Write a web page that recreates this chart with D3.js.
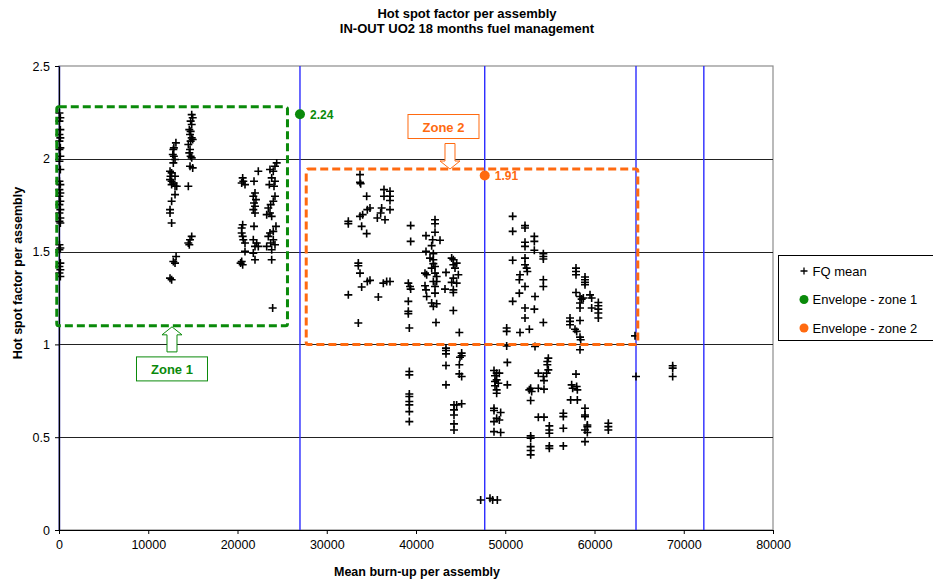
<!DOCTYPE html>
<html><head><meta charset="utf-8">
<script src="https://cdn.jsdelivr.net/npm/d3@7"></script>
<style>
html,body{margin:0;padding:0;background:#fff;}
svg{display:block;font-family:"Liberation Sans",Arial,sans-serif;}
</style></head>
<body><svg id="chart" width="933" height="582"></svg>
<script>
// ---------- data ----------
const titleLines = ["Hot spot factor per assembly", "IN-OUT UO2 18 months fuel management"];
const xLabel = "Mean burn-up per assembly";
const yLabel = "Hot spot factor per assembly";
const xTicks = [0,10000,20000,30000,40000,50000,60000,70000,80000];
const yTicks = [0,0.5,1,1.5,2,2.5];
const limitBurnups = [50, 27000, 47700, 64650, 72250];
const envelopeZone1 = [[27000, 2.24]];
const envelopeZone2 = [[47700, 1.91]];
const zoneNames = ["Zone 1", "Zone 2"];
// [xmin, xmax, ymin, ymax] in data units
const zoneBounds = [[-250, 25600, 1.1, 2.28], [27700, 64850, 1.0, 1.945]];
// label centre [x, y] in data units
const zoneLabelPos = [[12660, 0.868], [43080, 2.174]];
const legendLabels = ["FQ mean", "Envelope - zone 1", "Envelope - zone 2"];

const fqZone1 = [
[50,2.247],[150,2.221],[50,2.203],[150,2.157],[50,2.131],[150,2.113],[50,2.095],[150,2.059],[50,2.050],[150,2.014],[50,1.987],[150,1.942],[50,1.879],[150,1.861],[50,1.834],[150,1.816],[50,1.798],[150,1.771],[50,1.753],[150,1.726],[50,1.708],[150,1.681],[50,1.663],[150,1.654],[50,1.537],[150,1.519],[50,1.510],[150,1.438],[50,1.420],[150,1.402],[50,1.385],[150,1.366],
[13100,2.086],[12870,2.059],[12810,2.050],[12750,2.023],[12870,2.014],[13000,1.996],[12810,1.978],[12440,1.933],[12620,1.924],[12500,1.906],[13000,1.906],[12440,1.888],[12620,1.879],[12810,1.870],[13190,1.852],[12620,1.861],[13000,1.852],[13000,1.807],[12620,1.771],[12440,1.726],[12440,1.708],[12620,1.654],[13120,1.474],[12810,1.447],[13000,1.438],[12440,1.357],[12620,1.348],
[14870,2.238],[14980,2.221],[14750,2.203],[14870,2.185],[14600,2.157],[14750,2.148],[14680,2.131],[14870,2.113],[14980,2.104],[14750,2.095],[14490,2.077],[14680,2.050],[14600,2.032],[14750,2.014],[14870,2.005],[14680,1.960],[14980,1.951],[14490,1.852],[14870,1.582],[14680,1.564],[14490,1.546],[14600,1.537],
[20580,1.897],[20650,1.879],[20470,1.870],[20840,1.861],[20580,1.645],[20470,1.627],[20470,1.600],[20580,1.582],[20650,1.564],[20840,1.546],[20840,1.501],[20470,1.447],[20580,1.429],[20350,1.438],
[22330,1.933],[21850,1.879],[21960,1.816],[21770,1.798],[22070,1.780],[21850,1.762],[21960,1.744],[21770,1.726],[21960,1.708],[21850,1.636],[21770,1.564],[22150,1.546],[21960,1.528],[22330,1.528],[21770,1.492],[21960,1.456],
[24390,1.978],[24200,1.960],[23640,1.942],[24010,1.933],[23830,1.897],[24200,1.879],[23570,1.861],[24090,1.852],[24200,1.798],[24010,1.771],[23720,1.753],[23450,1.735],[23640,1.708],[23270,1.699],[23830,1.690],[24310,1.636],[24010,1.609],[23640,1.600],[23450,1.582],[24010,1.564],[23720,1.546],[24200,1.537],[23270,1.528],[23830,1.510],[23830,1.456],[23940,1.196]
];

const fqZone2 = [
[33725,1.915],[33725,1.873],[33800,1.866],[34472,1.798],[36414,1.834],[37086,1.825],[36414,1.798],[37086,1.798],[37086,1.775],[34845,1.735],[34547,1.726],[34023,1.699],[33725,1.690],[33911,1.636],[34472,1.597],[36152,1.735],[36040,1.708],[35667,1.681],[36526,1.672],[37086,1.726],[32417,1.663],[32417,1.650],[33538,1.438],[33538,1.424],[33725,1.384],[33911,1.309],[34845,1.345],[34547,1.339],[32417,1.267],[33538,1.115],[35779,1.255],[36339,1.330],[36713,1.339],[37086,1.339],
[39402,1.640],[39402,1.555],[41120,1.586],[42129,1.672],[42129,1.650],[42129,1.604],[41867,1.564],[42689,1.561],[41755,1.532],[41120,1.501],[41942,1.489],[41568,1.465],[41942,1.456],[41942,1.435],[42129,1.420],[41755,1.411],[41008,1.384],[42129,1.384],[42315,1.366],[42315,1.339],[41195,1.375],[41008,1.316],[41120,1.294],[41195,1.258],[41942,1.339],[42129,1.312],[42129,1.276],[41755,1.223],[42315,1.219],[41942,1.205],[39140,1.330],[39327,1.312],[39402,1.298],[39140,1.232],[39140,1.178],[39140,1.165],[39252,1.088],[42240,1.118],[43361,1.388],[43249,1.298],[43996,1.465],[44183,1.456],[44556,1.438],[44183,1.429],[44370,1.411],[44743,1.375],[44183,1.357],[43996,1.334],[44556,1.330],[44183,1.294],[44183,1.280],[44183,1.183],[44855,1.064],
[50831,1.690],[50831,1.609],[52213,1.640],[52213,1.627],[52213,1.550],[52213,1.528],[53259,1.582],[53259,1.555],[53259,1.507],[52213,1.465],[50831,1.453],[52213,1.429],[52400,1.411],[52475,1.393],[51653,1.375],[51578,1.348],[52213,1.312],[54268,1.489],[54268,1.474],[54268,1.460],[54268,1.348],[54268,1.312],[51578,1.276],[53334,1.258],[50831,1.232],[52213,1.196],[53259,1.190],[52213,1.142],[54268,1.118],[52699,1.082],[51653,1.064],[50159,1.088],[50159,1.070],[50159,0.992],[53334,0.989],
[57927,1.411],[57927,1.393],[57927,1.375],[58936,1.363],[58936,1.348],[58936,1.334],[58936,1.321],[57927,1.280],[58376,1.258],[58563,1.244],[58749,1.250],[59496,1.267],[59683,1.250],[58376,1.223],[58376,1.196],[59683,1.196],[60430,1.226],[60430,1.208],[60430,1.190],[60430,1.169],[60430,1.142],[57255,1.142],[57255,1.124],[58376,1.129],[57255,1.106],[57815,1.082],[58002,1.070],[58376,1.039],[58451,1.025],[58376,0.971],[64538,1.046]
];

const fqOther = [
[43360,0.980],[43360,0.967],[43360,0.949],[45116,0.953],[45116,0.939],[44929,0.931],[43360,0.886],[44855,0.890],[43360,0.782],[44855,0.841],[45116,0.827],
[39252,0.854],[39252,0.836],[39252,0.733],[39252,0.719],[39252,0.692],[39252,0.674],[39252,0.638],[39252,0.584],
[44257,0.674],[44556,0.674],[45116,0.680],[44257,0.647],[44257,0.620],[44257,0.572],[44257,0.539],
[48739,0.859],[49038,0.845],[49336,0.845],[48851,0.831],[49038,0.809],[48851,0.800],[49224,0.791],[48851,0.777],[49038,0.755],[49038,0.737],[50233,0.903],[50233,0.782],[48739,0.656],[48739,0.644],[49486,0.633],[49038,0.602],[49336,0.593],[48739,0.584],[48739,0.530],[49486,0.525],
[47245,0.162],[48291,0.171],[48589,0.162],[49112,0.162],
[52847,0.764],[52698,0.755],[52959,0.746],[52847,0.698],[53706,0.764],[54341,0.759],[53706,0.845],[54267,0.827],[54640,0.845],[54341,0.805],[54827,0.926],[54715,0.908],[54715,0.890],[54827,0.863],[53706,0.608],[54341,0.608],[54939,0.561],[54939,0.539],[54939,0.521],[54939,0.453],[54939,0.440],[52847,0.507],[52847,0.494],[52847,0.449],[52847,0.428],[52847,0.405],[56508,0.629],[56508,0.611],[56508,0.548],[56508,0.453],
[57441,0.782],[57553,0.764],[58002,0.773],[58077,0.755],[57927,0.840],[57329,0.701],[58077,0.701],[58935,0.656],[58935,0.620],[58935,0.611],[59197,0.566],[59197,0.557],[58935,0.539],[59197,0.525],[58935,0.476],
[61550,0.575],[61550,0.557],[61550,0.539],[64650,0.827],[68759,0.885],[68759,0.872],[68759,0.827]
];

// ---------- drawing ----------
(function () {
const GREEN = "#0a8a0a", ORANGE = "#ff6a10", BLUE = "#2b2bff";
const svg = d3.select("#chart");
const pL = 59, pR = 773, pT = 66, pB = 530;
const x = d3.scaleLinear().domain([0, 80000]).range([pL, pR]);
const y = d3.scaleLinear().domain([0, 2.5]).range([pB, pT]);

svg.append("g").selectAll("text").data(titleLines).join("text")
  .attr("x", 467).attr("y", (d, i) => 18 + i * 15)
  .attr("text-anchor", "middle").attr("font-weight", "bold").attr("font-size", 13)
  .text(d => d);

svg.append("rect").attr("x", pL).attr("y", pT).attr("width", pR - pL).attr("height", pB - pT)
  .attr("fill", "none").attr("stroke", "#8c8c8c").attr("stroke-width", 1.2);

svg.append("g").selectAll("line").data(yTicks.filter(v => v > 0 && v < 2.5)).join("line")
  .attr("x1", pL).attr("x2", pR)
  .attr("y1", d => Math.round(y(d)) + 0.5).attr("y2", d => Math.round(y(d)) + 0.5)
  .attr("stroke", "#222").attr("stroke-width", 1);

svg.append("g").selectAll("line").data(limitBurnups).join("line")
  .attr("x1", d => x(d)).attr("x2", d => x(d)).attr("y1", pT).attr("y2", pB)
  .attr("stroke", BLUE).attr("stroke-width", 1.4);

const xAxis = svg.append("g").attr("transform", `translate(0,${pB})`)
  .call(d3.axisBottom(x).tickValues(xTicks).tickSize(4).tickSizeOuter(0).tickPadding(6).tickFormat(d3.format("d")));
const yAxis = svg.append("g").attr("transform", `translate(${pL},0)`)
  .call(d3.axisLeft(y).tickValues(yTicks).tickSize(4).tickSizeOuter(0).tickPadding(5).tickFormat(d => String(d)));
[xAxis, yAxis].forEach(g => {
  g.select(".domain").attr("stroke", "#000").attr("stroke-width", 1.2);
  g.selectAll(".tick line").attr("stroke", "#000");
  g.selectAll("text").attr("font-size", 12.5).attr("fill", "#000")
    .attr("font-family", "'Liberation Sans', Arial, sans-serif");
});

svg.append("text").attr("x", 417).attr("y", 576).attr("text-anchor", "middle")
  .attr("font-weight", "bold").attr("font-size", 12.5).text(xLabel);
svg.append("text").attr("transform", "translate(22,273) rotate(-90)").attr("text-anchor", "middle")
  .attr("font-weight", "bold").attr("font-size", 12.5).text(yLabel);

const allFq = fqZone1.concat(fqZone2, fqOther);
svg.append("g").selectAll("path").data(allFq).join("path")
  .attr("d", "M-4,0H4M0,-4V4")
  .attr("transform", d => `translate(${x(d[0])},${y(d[1])})`)
  .attr("stroke", "#000").attr("stroke-width", 1.6).attr("fill", "none");

const env = [[envelopeZone1, GREEN], [envelopeZone2, ORANGE]];
env.forEach(([pts, col]) => {
  svg.append("g").selectAll("text").data(pts).join("text")
    .attr("x", d => x(d[0]) + 10).attr("y", d => y(d[1]) + 4.5)
    .attr("fill", col).attr("font-weight", "bold").attr("font-size", 12)
    .text(d => d[1].toFixed(2));
});

const zoneColors = [GREEN, ORANGE];
svg.append("g").selectAll("rect").data(zoneBounds).join("rect")
  .attr("x", d => x(d[0])).attr("y", d => y(d[3]))
  .attr("width", d => x(d[1]) - x(d[0])).attr("height", d => y(d[2]) - y(d[3]))
  .attr("rx", 2)
  .attr("fill", "none").attr("stroke", (d, i) => zoneColors[i])
  .attr("stroke-width", 3).attr("stroke-dasharray", "8,4");

env.forEach(([pts, col]) => {
  svg.append("g").selectAll("circle").data(pts).join("circle")
    .attr("cx", d => x(d[0])).attr("cy", d => y(d[1])).attr("r", 5).attr("fill", col);
});

zoneNames.forEach((name, i) => {
  const cx = x(zoneLabelPos[i][0]), cy = y(zoneLabelPos[i][1]);
  const col = zoneColors[i];
  const g = svg.append("g");
  g.append("rect").attr("x", cx - 35.5).attr("y", cy - 12).attr("width", 71).attr("height", 24)
    .attr("fill", "#fff").attr("stroke", col).attr("stroke-width", 1);
  g.append("text").attr("x", cx).attr("y", cy + 5).attr("text-anchor", "middle")
    .attr("fill", col).attr("font-weight", "bold").attr("font-size", 13).text(name);
});
{
  const ax = x(zoneLabelPos[0][0]), tip = y(zoneBounds[0][2]) + 1, base = y(zoneLabelPos[0][1]) - 17;
  svg.append("path")
    .attr("d", `M${ax},${tip} L${ax + 10},${tip + 8} L${ax + 5},${tip + 8} L${ax + 5},${base} L${ax - 5},${base} L${ax - 5},${tip + 8} L${ax - 10},${tip + 8} Z`)
    .attr("fill", "#fff").attr("stroke", GREEN).attr("stroke-width", 1);
}
{
  const ax = x(zoneLabelPos[1][0]) + 6.5, tip = y(zoneBounds[1][3]), base = y(zoneLabelPos[1][1]) + 17;
  svg.append("path")
    .attr("d", `M${ax},${tip} L${ax + 10},${tip - 8} L${ax + 5},${tip - 8} L${ax + 5},${base} L${ax - 5},${base} L${ax - 5},${tip - 8} L${ax - 10},${tip - 8} Z`)
    .attr("fill", "#fff").attr("stroke", ORANGE).attr("stroke-width", 1);
}

const lg = svg.append("g");
lg.append("rect").attr("x", 778.5).attr("y", 255.5).attr("width", 170).attr("height", 85)
  .attr("fill", "#fff").attr("stroke", "#000").attr("stroke-width", 1);
const legendColors = ["#000", GREEN, ORANGE];
legendLabels.forEach((lab, i) => {
  const ly = 271 + i * 28.5;
  if (i === 0) {
    lg.append("path").attr("d", "M-3.5,0H3.5M0,-3.5V3.5").attr("transform", `translate(804,${ly})`)
      .attr("stroke", "#000").attr("stroke-width", 1.3);
  } else {
    lg.append("circle").attr("cx", 804).attr("cy", ly).attr("r", 4.5).attr("fill", legendColors[i]);
  }
  lg.append("text").attr("x", 812.5).attr("y", ly + 4.5).attr("font-size", 13).text(lab);
});
})();
</script></body></html>
